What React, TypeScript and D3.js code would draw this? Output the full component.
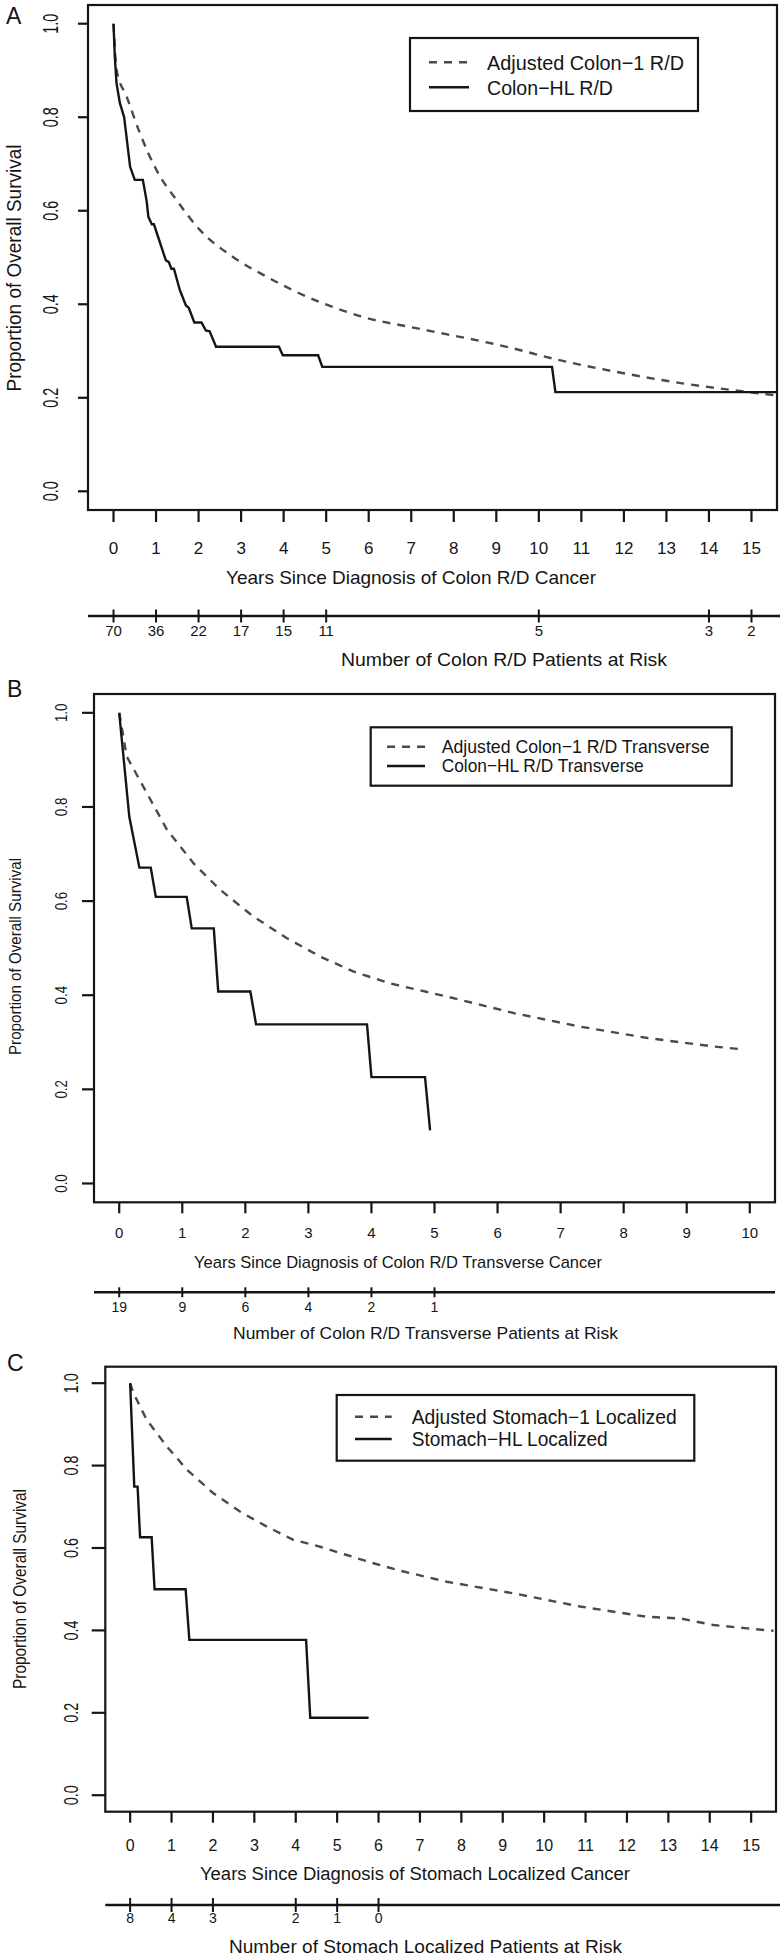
import React from 'react';
import * as d3 from 'd3';

// ---------------- DATA ----------------
const yTickValues = [0, 0.2, 0.4, 0.6, 0.8, 1.0];
const yearTicks15 = [0, 1, 2, 3, 4, 5, 6, 7, 8, 9, 10, 11, 12, 13, 14, 15];
const yearTicks10 = [0, 1, 2, 3, 4, 5, 6, 7, 8, 9, 10];

const riskTimesA = [0, 1, 2, 3, 4, 5, 10, 14, 15];
const riskCountsA = [70, 36, 22, 17, 15, 11, 5, 3, 2];
const riskTimesB = [0, 1, 2, 3, 4, 5];
const riskCountsB = [19, 9, 6, 4, 2, 1];
const riskTimesC = [0, 1, 2, 4, 5, 6];
const riskCountsC = [8, 4, 3, 2, 1, 0];

type Pt = [number, number];

// Panel A: Colon-HL R/D (solid) and Adjusted Colon-1 R/D (dashed)
const hlA: Pt[] = [
  [0, 1.0], [0.03, 0.93], [0.07, 0.873], [0.15, 0.83], [0.25, 0.8], [0.39, 0.694],
  [0.5, 0.666], [0.69, 0.666], [0.78, 0.62], [0.82, 0.587], [0.9, 0.571], [0.95, 0.571],
  [1.23, 0.494], [1.3, 0.49], [1.36, 0.476], [1.42, 0.476], [1.56, 0.43], [1.7, 0.398],
  [1.77, 0.392], [1.9, 0.361], [2.07, 0.361], [2.17, 0.344], [2.26, 0.342], [2.41, 0.309],
  [3.89, 0.309], [3.98, 0.291], [4.81, 0.291], [4.91, 0.266], [10.31, 0.266], [10.39, 0.212],
  [15.6, 0.212],
];
const adjA: Pt[] = [
  [0, 1.0], [0.075, 0.9], [0.31, 0.844], [0.62, 0.766], [1.01, 0.687], [1.48, 0.623],
  [2.03, 0.559], [2.81, 0.501], [3.6, 0.459], [4.38, 0.423], [5.16, 0.394], [5.94, 0.371],
  [7.0, 0.351], [7.82, 0.336], [8.6, 0.322], [9.38, 0.306], [10.32, 0.284], [11.73, 0.257],
  [13.3, 0.232], [14.86, 0.213], [15.6, 0.205],
];

// Panel B: Colon-HL R/D Transverse (solid) and Adjusted Colon-1 R/D Transverse (dashed)
const hlB: Pt[] = [
  [0, 1.0], [0.16, 0.779], [0.32, 0.671], [0.5, 0.671], [0.58, 0.609], [1.07, 0.609],
  [1.15, 0.542], [1.5, 0.542], [1.57, 0.408], [2.08, 0.408], [2.17, 0.338], [3.93, 0.338],
  [4.0, 0.226], [4.85, 0.226], [4.93, 0.113],
];
const adjB: Pt[] = [
  [0, 1.0], [0.12, 0.907], [0.44, 0.829], [0.76, 0.751], [1.18, 0.68], [1.6, 0.624],
  [2.13, 0.567], [2.66, 0.521], [3.19, 0.482], [3.72, 0.45], [4.3, 0.425], [5.2, 0.397],
  [6.26, 0.362], [7.32, 0.333], [8.38, 0.309], [9.43, 0.291], [9.88, 0.285],
];

// Panel C: Stomach-HL Localized (solid) and Adjusted Stomach-1 Localized (dashed)
const hlC: Pt[] = [
  [0, 1.0], [0.1, 0.749], [0.18, 0.749], [0.24, 0.626], [0.52, 0.626], [0.59, 0.5],
  [1.34, 0.5], [1.43, 0.377], [4.25, 0.377], [4.35, 0.188], [5.76, 0.188],
];
const adjC: Pt[] = [
  [0, 1.0], [0.08, 0.976], [0.4, 0.911], [0.89, 0.846], [1.37, 0.79], [2.01, 0.733],
  [2.66, 0.688], [3.3, 0.652], [3.94, 0.62], [4.59, 0.603], [5.23, 0.583], [5.88, 0.563],
  [6.52, 0.545], [7.65, 0.518], [9.26, 0.49], [10.06, 0.474], [10.87, 0.458], [12.48, 0.433],
  [13.29, 0.429], [14.09, 0.413], [14.9, 0.405], [15.54, 0.399],
];

// ---------------- LAYOUT ----------------
const FONT = "'Liberation Sans', Arial, sans-serif";
const NARROW = "'Liberation Sans Narrow', 'Liberation Sans', Arial, sans-serif";
const INK = '#151515';
const DASH = '#4a4a4a';

const panels = [
  {
    letter: 'A', letterX: 6, letterY: 24, smoothDashed: true,
    box: { l: 88, t: 5, r: 777, b: 510 },
    xDomain: [-0.6, 15.6], xTicks: yearTicks15, tickLen: 12,
    xLabelY: 548, xLabelFont: 17, tickFamily: NARROW,
    xTitle: 'Years Since Diagnosis of Colon R/D Cancer', xTitleX: 226, xTitleY: 577, xTitleW: 370, xTitleFont: 19,
    risk: { times: riskTimesA, counts: riskCountsA, y: 616, x0: 88, x1: 780, half: 6.5, labelY: 631, font: 15,
      title: 'Number of Colon R/D Patients at Risk', titleX: 341, titleY: 659, titleW: 326, titleFont: 19 },
    yTickX0: 78, yLabelX: 50, yLabelFont: 22, yLabelLen: 20,
    yTitle: { x: 14, y: 268, w: 247, font: 20 },
    legend: { l: 410, t: 38, r: 698, b: 111, lx0: 429, lx1: 469, y1: 62.3, y2: 87.3, tx: 487, font: 21,
      t1: 'Adjusted Colon\u22121 R/D', w1: 197, t2: 'Colon\u2212HL R/D', w2: 126 },
    solid: hlA, dashed: adjA,
  },
  {
    letter: 'B', letterX: 7, letterY: 697, smoothDashed: false,
    box: { l: 94, t: 694, r: 775, b: 1202.3 },
    xDomain: [-0.4, 10.4], xTicks: yearTicks10, tickLen: 11,
    xLabelY: 1233, xLabelFont: 15, tickFamily: FONT,
    xTitle: 'Years Since Diagnosis of Colon R/D Transverse Cancer', xTitleX: 194, xTitleY: 1262, xTitleW: 408, xTitleFont: 17,
    risk: { times: riskTimesB, counts: riskCountsB, y: 1292.3, x0: 94, x1: 775, half: 5, labelY: 1307, font: 14,
      title: 'Number of Colon R/D Transverse Patients at Risk', titleX: 233, titleY: 1333, titleW: 385, titleFont: 17 },
    yTickX0: 82, yLabelX: 61.7, yLabelFont: 16, yLabelLen: 18.5,
    yTitle: { x: 15, y: 956.5, w: 197, font: 17 },
    legend: { l: 370.7, t: 727.3, r: 731.7, b: 785.7, lx0: 387, lx1: 425, y1: 746.7, y2: 766, tx: 441.7, font: 18.5,
      t1: 'Adjusted Colon\u22121 R/D Transverse', w1: 268, t2: 'Colon\u2212HL R/D Transverse', w2: 202 },
    solid: hlB, dashed: adjB,
  },
  {
    letter: 'C', letterX: 7, letterY: 1371, smoothDashed: false,
    box: { l: 105.3, t: 1366.7, r: 776, b: 1811.7 },
    xDomain: [-0.6, 15.6], xTicks: yearTicks15, tickLen: 11,
    xLabelY: 1845, xLabelFont: 16, tickFamily: FONT,
    xTitle: 'Years Since Diagnosis of Stomach Localized Cancer', xTitleX: 200, xTitleY: 1874, xTitleW: 430, xTitleFont: 18,
    risk: { times: riskTimesC, counts: riskCountsC, y: 1905, x0: 105.3, x1: 780, half: 7, labelY: 1918.3, font: 14,
      title: 'Number of Stomach Localized Patients at Risk', titleX: 229, titleY: 1946.7, titleW: 393, titleFont: 18 },
    yTickX0: 91.7, yLabelX: 70.5, yLabelFont: 21, yLabelLen: 20,
    yTitle: { x: 19, y: 1589, w: 200, font: 19 },
    legend: { l: 336.7, t: 1395, r: 694.3, b: 1460.7, lx0: 355, lx1: 391.7, y1: 1416.7, y2: 1439, tx: 411.7, font: 20,
      t1: 'Adjusted Stomach\u22121 Localized', w1: 265, t2: 'Stomach\u2212HL Localized', w2: 196 },
    solid: hlC, dashed: adjC,
  },
];

function Panel({ p }: { p: any }) {
  const x = d3.scaleLinear().domain(p.xDomain).range([p.box.l, p.box.r]);
  const y = d3.scaleLinear().domain([-0.04, 1.04]).range([p.box.b, p.box.t]);
  const line = d3.line<Pt>().x((d) => x(d[0])).y((d) => y(d[1]));
  const smooth = d3.line<Pt>().x((d) => x(d[0])).y((d) => y(d[1])).curve(d3.curveMonotoneX);
  const dashedGen = p.smoothDashed ? smooth : line;
  const L = p.legend;
  const R = p.risk;
  return (
    <g>
      <text x={p.letterX} y={p.letterY} fontSize={23} fontFamily={FONT} fill={INK}>{p.letter}</text>
      {/* curves */}
      <path d={dashedGen(p.dashed) || ''} fill="none" stroke={DASH} strokeWidth={2.4} strokeDasharray="8 7" />
      <path d={line(p.solid) || ''} fill="none" stroke={INK} strokeWidth={2.4} strokeLinejoin="miter" />
      {/* box */}
      <rect x={p.box.l} y={p.box.t} width={p.box.r - p.box.l} height={p.box.b - p.box.t}
        fill="none" stroke={INK} strokeWidth={2.2} />
      {/* y axis */}
      {yTickValues.map((v) => (
        <g key={'y' + v}>
          <line x1={p.yTickX0} x2={p.box.l} y1={y(v)} y2={y(v)} stroke={INK} strokeWidth={2.2} />
          <text transform={`translate(${p.yLabelX},${y(v)}) rotate(-90)`} textAnchor="middle" dy="0.35em"
            fontSize={p.yLabelFont} fontFamily={FONT} fill={INK}
            textLength={p.yLabelLen} lengthAdjust="spacingAndGlyphs">{v.toFixed(1)}</text>
        </g>
      ))}
      <text transform={`translate(${p.yTitle.x},${p.yTitle.y}) rotate(-90)`} textAnchor="middle" dy="0.35em"
        fontSize={p.yTitle.font} fontFamily={FONT} fill={INK}
        textLength={p.yTitle.w} lengthAdjust="spacingAndGlyphs">Proportion of Overall Survival</text>
      {/* x axis */}
      {p.xTicks.map((t: number) => (
        <g key={'x' + t}>
          <line x1={x(t)} x2={x(t)} y1={p.box.b} y2={p.box.b + p.tickLen} stroke={INK} strokeWidth={2.2} />
          <text x={x(t)} y={p.xLabelY} textAnchor="middle" dy="0.35em" fontSize={p.xLabelFont}
            fontFamily={p.tickFamily} fill={INK}>{t}</text>
        </g>
      ))}
      <text x={p.xTitleX} y={p.xTitleY} dy="0.35em" fontSize={p.xTitleFont} fontFamily={FONT} fill={INK}
        textLength={p.xTitleW} lengthAdjust="spacingAndGlyphs">{p.xTitle}</text>
      {/* risk axis */}
      <line x1={R.x0} x2={R.x1} y1={R.y} y2={R.y} stroke={INK} strokeWidth={2.4} />
      {R.times.map((t: number, i: number) => (
        <g key={'r' + t}>
          <line x1={x(t)} x2={x(t)} y1={R.y - R.half} y2={R.y + R.half} stroke={INK} strokeWidth={2} />
          <text x={x(t)} y={R.labelY} textAnchor="middle" dy="0.35em" fontSize={R.font}
            fontFamily={p.tickFamily} fill={INK}>{R.counts[i]}</text>
        </g>
      ))}
      <text x={R.titleX} y={R.titleY} dy="0.35em" fontSize={R.titleFont} fontFamily={FONT} fill={INK}
        textLength={R.titleW} lengthAdjust="spacingAndGlyphs">{R.title}</text>
      {/* legend */}
      <rect x={L.l} y={L.t} width={L.r - L.l} height={L.b - L.t} fill="#fff" stroke={INK} strokeWidth={2.2} />
      <line x1={L.lx0} x2={L.lx1} y1={L.y1} y2={L.y1} stroke={DASH} strokeWidth={2.4} strokeDasharray="8 7" />
      <line x1={L.lx0} x2={L.lx1} y1={L.y2} y2={L.y2} stroke={INK} strokeWidth={2.4} />
      <text x={L.tx} y={L.y1} dy="0.35em" fontSize={L.font} fontFamily={FONT} fill={INK}
        textLength={L.w1} lengthAdjust="spacingAndGlyphs">{L.t1}</text>
      <text x={L.tx} y={L.y2} dy="0.35em" fontSize={L.font} fontFamily={FONT} fill={INK}
        textLength={L.w2} lengthAdjust="spacingAndGlyphs">{L.t2}</text>
    </g>
  );
}

export default function App() {
  return (
    <svg width={780} height={1956} viewBox="0 0 780 1956"
      style={{ position: 'absolute', left: 0, top: 0, background: '#fff' }}>
      <rect x={0} y={0} width={780} height={1956} fill="#fff" />
      {panels.map((p) => <Panel key={p.letter} p={p} />)}
    </svg>
  );
}
